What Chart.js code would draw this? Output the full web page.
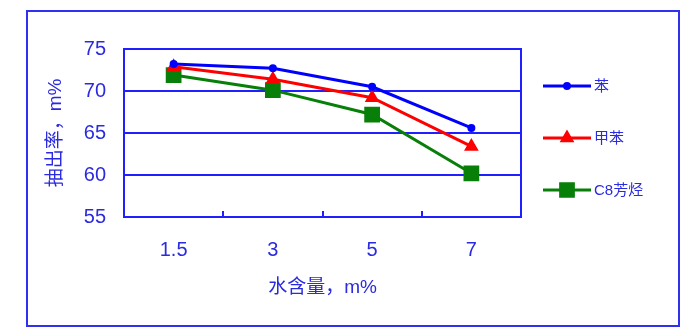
<!DOCTYPE html>
<html>
<head>
<meta charset="utf-8">
<script src="https://cdn.jsdelivr.net/npm/chart.js@4/dist/chart.umd.min.js"></script>
<style>
html,body{margin:0;padding:0;background:#fff;}
#wrap{width:700px;height:336px;position:relative;}
</style>
</head>
<body>
<div id="wrap"><canvas id="c" width="700" height="336"></canvas></div>
<script>
const categories = ['1.5', '3', '5', '7'];
const seriesNames = ['苯', '甲苯', 'C8芳烃'];
const benzene = [73.2, 72.7, 70.5, 65.6];
const toluene = [72.9, 71.4, 69.2, 63.4];
const c8aromatics = [71.9, 70.1, 67.2, 60.2];
const yTicks = [55, 60, 65, 70, 75];
const xTitle = '水含量，m%';
const yTitle = '抽出率，m%';

const BLUE = '#1f1fff';
const TEXT = '#2a2ae0';
const FONT = "'Liberation Sans', Arial, 'Noto Sans CJK SC', sans-serif";
const CJK = "'Liberation Sans', 'Noto Sans CJK SC', sans-serif";

const frame = {
  id: 'frame',
  beforeDraw(chart) {
    const ctx = chart.ctx;
    ctx.save();
    ctx.fillStyle = '#fff';
    ctx.fillRect(0, 0, chart.width, chart.height);
    ctx.strokeStyle = '#3030f0';
    ctx.lineWidth = 2;
    ctx.strokeRect(27, 11, 652, 315);
    ctx.restore();
  },
  beforeDatasetsDraw(chart) {
    const ctx = chart.ctx, a = chart.chartArea, xs = chart.scales.x;
    ctx.save();
    ctx.strokeStyle = BLUE;
    ctx.lineWidth = 2;
    ctx.strokeRect(a.left, a.top, a.right - a.left, a.bottom - a.top);
    ctx.beginPath();
    for (let i = 0; i < categories.length - 1; i++) {
      const x = Math.round((xs.getPixelForTick(i) + xs.getPixelForTick(i + 1)) / 2);
      ctx.moveTo(x, a.bottom);
      ctx.lineTo(x, a.bottom - 6);
    }
    ctx.stroke();
    ctx.restore();
  },
  afterDraw(chart) {
    const ctx = chart.ctx;
    const ys = [86, 138, 190];
    ctx.save();
    chart.data.datasets.forEach((ds, i) => {
      const y = ys[i];
      ctx.strokeStyle = ds.borderColor;
      ctx.lineWidth = 3;
      ctx.beginPath();
      ctx.moveTo(543, y);
      ctx.lineTo(591, y);
      ctx.stroke();
      ctx.fillStyle = ds.borderColor;
      ctx.strokeStyle = ds.borderColor;
      Chart.helpers.drawPoint(ctx, {pointStyle: ds.pointStyle, radius: ds.pointRadius, borderWidth: 1}, 567, y);
      ctx.fillStyle = TEXT;
      ctx.font = "15px " + CJK;
      ctx.textBaseline = 'middle';
      ctx.textAlign = 'left';
      ctx.fillText(seriesNames[i], 594, y + 1);
    });
    ctx.restore();
  }
};

new Chart(document.getElementById('c'), {
  type: 'line',
  data: {
    labels: categories,
    datasets: [
      {label: seriesNames[0], data: benzene, borderColor: '#0000ff', backgroundColor: '#0000ff', borderWidth: 3, pointStyle: 'circle', pointRadius: 2.5, tension: 0},
      {label: seriesNames[1], data: toluene, borderColor: '#ff0000', backgroundColor: '#ff0000', borderWidth: 3, pointStyle: 'triangle', pointRadius: 5.5, tension: 0},
      {label: seriesNames[2], data: c8aromatics, borderColor: '#087f08', backgroundColor: '#087f08', borderWidth: 3, pointStyle: 'rect', pointRadius: 9, tension: 0}
    ]
  },
  options: {
    responsive: false,
    animation: false,
    layout: {padding: {left: 40, right: 179, top: 49, bottom: 30}},
    plugins: {legend: {display: false}, tooltip: {enabled: false}},
    scales: {
      x: {
        type: 'category',
        offset: true,
        grid: {display: false},
        border: {display: false},
        ticks: {color: TEXT, font: {size: 20, family: FONT}, padding: 13},
        title: {display: true, text: xTitle, color: TEXT, font: {size: 19, family: CJK}, padding: {top: 0, bottom: 7}},
        afterFit(s) { s.height = 336 - 217 - 30; }
      },
      y: {
        min: 55, max: 75,
        afterBuildTicks(s) { s.ticks = yTicks.map(v => ({value: v})); },
        grid: {color: BLUE, lineWidth: 2, drawTicks: false},
        border: {display: false},
        ticks: {color: TEXT, font: {size: 20, family: FONT}, padding: 18},
        title: {display: true, text: yTitle, color: TEXT, font: {size: 19, family: CJK}, padding: {top: 4, bottom: 0}},
        afterFit(s) { s.width = 124 - 40; }
      }
    }
  },
  plugins: [frame]
});
</script>
</body>
</html>
